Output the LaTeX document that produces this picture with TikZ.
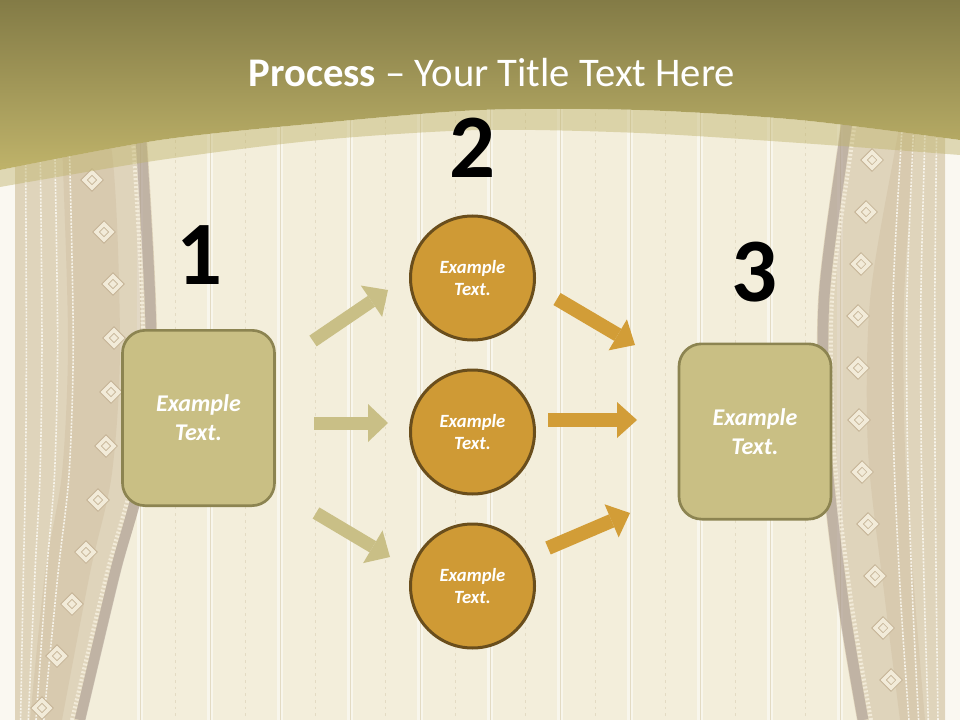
\documentclass[tikz,border=0pt]{standalone}
\usepackage{fontspec}
\setmainfont{Carlito}
\usepackage{xcolor}
\usepackage{tikz}
\usetikzlibrary{positioning}
\usetikzlibrary{arrows.meta}

\definecolor{cream}{HTML}{F3EEDB}
\definecolor{edgewhite}{HTML}{FAF8F1}
\definecolor{seamcol}{HTML}{E3DBC3}
\definecolor{olivetop}{HTML}{837B46}
\definecolor{olivebot}{HTML}{BFB36A}
\definecolor{khaki}{HTML}{C9BF84}
\definecolor{khakiline}{HTML}{8C8451}
\definecolor{goldfill}{HTML}{CF9A35}
\definecolor{goldline}{HTML}{6A4E1C}
\definecolor{goldarrow}{HTML}{D29D37}
\definecolor{palearrow}{HTML}{C9BF86}
\definecolor{drape}{HTML}{C8B596}
\definecolor{drapeedge}{HTML}{9C8C88}
\definecolor{gemfill}{HTML}{F2EBD9}
\definecolor{gemline}{HTML}{C4B395}

\begin{document}
\begin{tikzpicture}[x=0.75pt, y=-0.75pt,
panel/.style={draw=khakiline, line width=2pt, fill=khaki, rounded corners=17pt, minimum width=114pt, minimum height=131.5pt, text=white, align=center, font=\bfseries\itshape\fontsize{18}{21.6}\selectfont},
disc/.style={circle, draw=goldline, line width=2.25pt, fill=goldfill, minimum size=93pt, inner sep=0pt, text=white, align=center, font=\bfseries\itshape\fontsize{14}{17}\selectfont},
numeral/.style={anchor=base, font=\bfseries\fontsize{68}{80}\selectfont},
pale arrow/.style={palearrow, line width=9.75pt, -{Triangle[length=15pt, width=28.5pt, line width=0pt]}},
gold arrow/.style={goldarrow, line width=10.5pt, -{Triangle[length=15pt, width=27pt, line width=0pt]}},
gem/.style={draw=gemline, fill=gemfill, rotate=45, minimum size=12pt, inner sep=0pt, line width=0.6pt},
gemcore/.style={draw=gemline, rotate=45, minimum size=5pt, inner sep=0pt, line width=0.5pt},
fold/.style={edgewhite, line width=1.2pt, opacity=0.9, dash pattern=on 1.5pt off 1pt},
stripe/.style={edgewhite, line width=4.5pt, opacity=0.8},
seam/.style={seamcol, line width=0.75pt, dash pattern=on 2pt off 3pt}
]

\useasboundingbox (0,0) rectangle (960,720);

%background%
\fill[cream] (0,0) rectangle (960,720);
\foreach \x in {140,210,...,840} \draw[stripe] (\x,0)--(\x,720);
\foreach \x in {140,210,...,840} \draw[seamcol, line width=0.6pt] (\x,0)--(\x,720);
\foreach \x in {175,245,...,805} \draw[seam] (\x,0)--(\x,720);
\fill[edgewhite] (0,0) rectangle (15,720);
\fill[edgewhite] (945,0) rectangle (960,720);

%left curtain%
{
\fill[drape, opacity=0.45] (15,100) -- (15,720) -- plot[smooth] coordinates {(85,720) (120,573) (147,473) (157,340) (147,140) (140,100)} -- cycle;
\fill[drape, opacity=0.3] plot[smooth] coordinates {(30,720) (45,573) (62,473) (68,340) (62,140) (60,100)} -- plot[smooth] coordinates {(70,100) (110,140) (120,340) (112,473) (90,573) (62,720)} -- cycle;
\foreach \f in {0.08,0.19,0.3,0.41} \draw[fold] plot[smooth] coordinates {(15+70*\f,720) (15+105*\f,573) (15+132*\f,473) (15+142*\f,340) (15+132*\f,140) (15+125*\f,100)};
\draw[drapeedge, opacity=0.45, line width=8pt] plot[smooth] coordinates {(80,720) (115,573) (141,473) (151,340) (141,140) (135,100)};
\draw[gemfill, line width=3pt, dash pattern=on 1.5pt off 1.5pt] plot[smooth] coordinates {(72,720) (107,573) (133,473) (143,340) (133,140) (127,100)};
\foreach \x/\y in {92/180, 104/232, 113/284, 114/338, 111/392, 106/446, 98/500, 86/552, 72/604, 57/656, 42/708} {\node[gem] at (\x,\y) {}; \node[gemcore] at (\x,\y) {};}
}

%right curtain%
{
\fill[drape, opacity=0.45] (945,100) -- (945,720) -- plot[smooth] coordinates {(857,720) (837,600) (820,450) (818,300) (837,150) (845,100)} -- cycle;
\fill[drape, opacity=0.3] plot[smooth] coordinates {(925,720) (915,600) (905,450) (904,300) (914,150) (918,100)} -- plot[smooth] coordinates {(905,100) (895,150) (870,300) (868,450) (885,600) (900,720)} -- cycle;
\foreach \f in {0.08,0.19,0.3,0.41} \draw[fold] plot[smooth] coordinates {(945-88*\f,720) (945-108*\f,600) (945-125*\f,450) (945-127*\f,300) (945-108*\f,150) (945-100*\f,100)};
\draw[drapeedge, opacity=0.45, line width=8pt] plot[smooth] coordinates {(863,720) (843,600) (826,450) (824,300) (843,150) (851,100)};
\draw[gemfill, line width=3pt, dash pattern=on 1.5pt off 1.5pt] plot[smooth] coordinates {(871,720) (851,600) (834,450) (832,300) (851,150) (859,100)};
\foreach \x/\y in {872/160, 866/212, 861/264, 858/316, 858/368, 859/420, 862/472, 868/524, 875/576, 883/628, 891/680} {\node[gem] at (\x,\y) {}; \node[gemcore] at (\x,\y) {};}
}

%title band%
\shade[top color=olivetop, bottom color=olivebot] (0,0) -- (960,0) -- plot[smooth] coordinates {(960,140) (800,120) (640,110) (480,110) (320,123) (160,140) (0,170)} -- cycle;
\fill[olivebot, opacity=0.45] plot[smooth] coordinates {(0,170) (160,140) (320,123) (480,110) (640,110) (800,120) (960,140)} -- plot[smooth] coordinates {(960,155) (800,143) (640,133) (480,130) (320,140) (160,160) (0,187)} -- cycle;

\node (title) [anchor=base, text=white, font=\fontsize{30.5}{36}\selectfont] at (492,87) {\textbf{Process} -- Your Title Text Here};

%step numbers%
\node (n1) [numeral] at (199,285) {1};
\node (n2) [numeral] at (472,178) {2};
\node (n3) [numeral] at (754,301) {3};

%boxes and discs%
\node (p1) [panel] at (198.5,418) {Example\\Text.};
\node (p3) [panel] at (755,431.5) {Example\\Text.};
\foreach \y/\n in {278/c1, 432/c2, 586/c3} \node (\n) [disc] at (472.5,\y) {Example\\Text.};

%arrows out of box 1%
\coordinate (pa1) at (313,341); \coordinate (pb1) at (388,290);
\coordinate (pa2) at (314,423); \coordinate (pb2) at (388,423);
\coordinate (pa3) at (316,513); \coordinate (pb3) at (390,557);
\foreach \i in {1,2,3} \draw[pale arrow] (pa\i) -- (pb\i);

%arrows into box 3%
\coordinate (ga1) at (557,299); \coordinate (gb1) at (635,345);
\coordinate (ga2) at (548,420); \coordinate (gb2) at (637,420);
\coordinate (ga3) at (548,548); \coordinate (gb3) at (630,513);
\foreach \i in {1,2,3} \draw[gold arrow] (ga\i) -- (gb\i);

\end{tikzpicture}
\end{document}
